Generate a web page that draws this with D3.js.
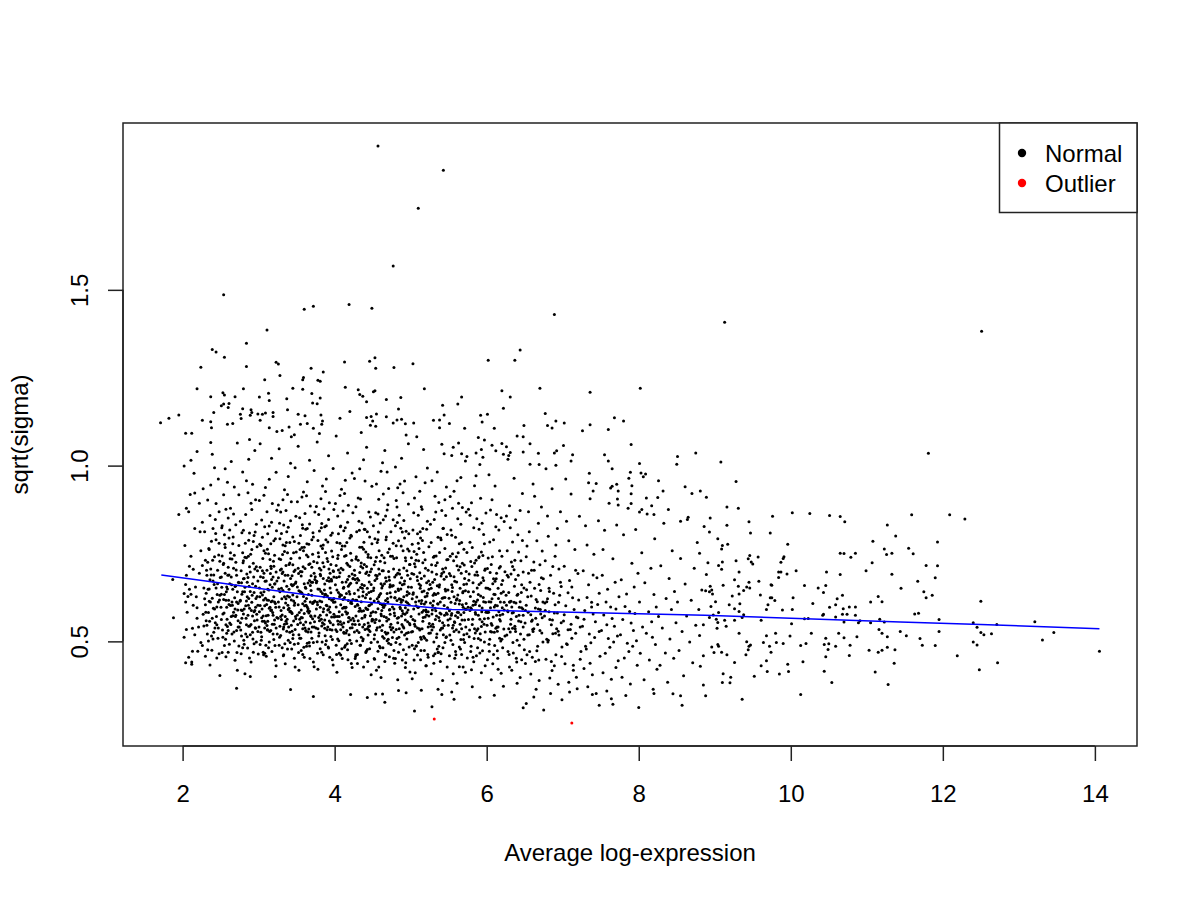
<!DOCTYPE html>
<html>
<head>
<meta charset="utf-8">
<script src="https://cdn.jsdelivr.net/npm/d3@7"></script>
<style>
  body { margin: 0; background: #fff; }
  text { font-family: "Liberation Sans", Arial, Helvetica, sans-serif; fill: #000; }
</style>
</head>
<body>
<svg id="chart" width="1200" height="900"></svg>
<script>
// values, flat lists of x, y (x = average log-expression, y = sqrt(sigma))
const xTicks = [2, 4, 6, 8, 10, 12, 14];
const yTicks = [0.5, 1.0, 1.5];
const legendLabels = ["Normal", "Outlier"];
const legendColors = ["black", "red"];

// lowess trend
const trendX = [1.72, 2.5, 3.33, 4.29, 5.0, 5.54, 6.5, 7.27, 8.87, 10.0, 11.44, 12.5, 14.06];
const trendY = [0.689, 0.666, 0.641, 0.614, 0.601, 0.591, 0.586, 0.582, 0.574, 0.566, 0.555, 0.548, 0.536];

const outlierPts = [5.31,.279, 7.12,.268];

const sparseTop = [4.57,1.909, 5.43,1.840, 5.10,1.732, 4.77,1.568, 2.54,1.486, 3.60,1.445, 3.72,1.453, 4.19,1.458, 4.49,1.448, 6.89,1.430, 3.11,1.386, 2.84,1.348, 2.39,1.330, 2.44,1.323, 2.55,1.308, 2.24,1.280, 2.84,1.282, 3.23,1.294, 3.26,1.289, 3.69,1.277, 4.13,1.295, 4.46,1.297, 4.53,1.307, 4.54,1.277, 4.78,1.279, 5.03,1.290, 6.02,1.300, 6.37,1.300, 6.44,1.329];

const sparseUpper = [3.08,1.244, 3.28,1.256, 3.59,1.251, 3.58,1.244, 3.85,1.266, 3.78,1.243, 3.81,1.240, 2.19,1.219, 2.80,1.219, 2.53,1.207, 2.55,1.201, 2.37,1.196, 2.69,1.196, 3.01,1.195, 3.13,1.206, 3.14,1.185, 3.37,1.190, 3.45,1.220, 3.58,1.217, 3.70,1.205, 3.71,1.178, 3.77,1.176, 3.81,1.192, 4.14,1.223, 4.31,1.216, 4.33,1.202, 4.37,1.197, 4.42,1.182, 4.51,1.210, 4.53,1.213, 4.68,1.188, 4.87,1.194, 5.18,1.219, 2.51,1.170, 2.54,1.175, 2.61,1.177, 2.41,1.151, 2.60,1.165, 2.79,1.162, 2.90,1.159, 2.91,1.151, 2.89,1.143, 2.76,1.146, 2.77,1.134, 2.99,1.147, 3.05,1.146, 3.02,1.129, 3.09,1.150, 3.19,1.151, 3.19,1.140, 3.38,1.159, 3.52,1.146, 3.61,1.142, 3.55,1.118, 3.82,1.144, 3.84,1.127, 3.83,1.118, 4.07,1.135, 4.20,1.154, 4.42,1.137, 4.48,1.140, 4.50,1.127, 4.47,1.115, 4.55,1.147, 4.68,1.139, 4.84,1.161, 4.77,1.121, 4.82,1.130, 4.88,1.132, 4.93,1.119, 5.42,1.172, 5.30,1.129, 5.38,1.130, 5.44,1.144, 5.51,1.120, 1.71,1.122, 1.82,1.135, 1.95,1.144, 2.26,1.129, 2.37,1.125, 2.38,1.108, 2.59,1.118, 2.66,1.120, 2.04,1.092, 2.12,1.092, 2.37,1.066, 2.19,1.040, 2.11,1.015, 2.02,0.999, 2.16,0.922, 2.05,0.879, 1.95,0.861, 3.14,1.108, 3.24,1.097, 3.31,1.100, 3.40,1.110, 3.47,1.088, 3.43,1.082, 3.64,1.120, 3.72,1.106, 3.80,1.091, 2.88,1.074];

const sparseMid = [6.70,1.220, 7.36,1.209, 8.02,1.220, 6.20,1.213, 6.31,1.195, 5.67,1.195, 5.62,1.175, 6.22,1.163, 5.92,1.143, 6.01,1.146, 5.94,1.124, 6.77,1.148, 6.91,1.127, 7.02,1.121, 6.80,1.114, 6.86,1.107, 6.49,1.114, 5.71,1.106, 7.68,1.136, 7.80,1.127, 7.36,1.116, 7.26,1.099, 7.60,1.103, 6.40,1.084, 6.48,1.082, 5.89,1.080, 5.97,1.073, 5.63,1.064, 6.07,1.058, 6.20,1.063, 6.26,1.054, 6.12,1.042, 6.57,1.062, 7.01,1.057, 7.90,1.060, 5.93,1.046, 5.86,1.036, 5.54,1.029, 5.67,1.034, 5.74,1.026, 6.31,1.037, 6.29,1.029, 6.48,1.039, 6.68,1.035, 6.89,1.036, 7.13,1.031, 7.11,1.013, 7.55,1.031, 7.60,1.013, 8.51,1.026, 8.50,1.004, 8.75,1.036, 6.69,1.003, 6.91,1.001, 8.01,1.006, 7.65,0.991, 7.89,0.981, 8.03,0.979, 8.09,0.976, 7.35,0.978, 7.34,0.951, 7.87,0.964, 7.91,0.943, 8.26,0.957, 8.61,0.940, 8.70,0.921, 7.65,0.941, 7.71,0.947, 7.73,0.928, 7.40,0.928, 7.90,0.920, 8.10,0.908, 8.25,0.909, 7.72,0.905, 7.73,0.888, 7.90,0.892, 8.17,0.886, 8.20,0.861, 8.39,0.875, 8.04,0.875, 8.01,0.868, 8.55,0.842, 8.64,0.847];

const sparseBottom = [1.88,.567, 1.87,.676, 2.04,.439, 2.12,.435, 2.49,.403, 2.71,.367, 2.89,.400, 3.22,.400, 3.42,.363, 3.72,.343, 4.21,.349, 4.43,.340, 4.54,.350, 4.63,.350, 4.66,.327, 4.84,.360, 4.94,.354, 5.05,.302, 5.28,.314, 5.14,.361, 5.36,.364, 5.41,.349, 5.54,.356, 6.48,.311, 6.52,.323, 6.75,.305, 7.48,.318, 7.66,.321, 8.00,.312, 8.57,.318, 5.57,.335, 5.91,.341, 6.10,.347, 6.62,.342, 6.99,.334, 7.09,.356, 7.39,.349, 7.64,.337, 8.20,.352, 8.55,.345, 2.02,.636, 2.04,.612, 2.09,.648, 2.05,.534, 2.13,.472];

const sparseRight = [9.13,1.408, 12.51,1.382, 11.81,1.035, 9.08,1.010, 9.28,.955, 8.81,.928, 8.89,.910, 9.16,.882, 9.31,.879, 9.76,.856, 10.02,.866, 10.25,.864, 10.51,.858, 10.65,.855, 10.71,.840, 11.59,.860, 12.09,.860, 12.29,.848, 11.27,.831, 11.38,.800, 11.93,.783, 11.08,.785, 11.23,.763, 11.26,.747, 11.33,.751, 11.55,.765, 11.61,.749, 11.07,.724, 11.33,.691, 11.78,.716, 11.93,.715, 11.90,.681, 11.67,.671, 11.45,.651, 11.75,.641, 11.86,.631, 11.78,.624, 12.50,.614, 11.63,.578, 11.68,.580, 11.95,.562, 12.40,.553, 12.45,.540, 12.71,.548, 13.21,.556, 12.50,.525, 12.54,.519, 12.64,.522, 13.46,.525, 13.31,.504, 11.95,.528, 12.40,.498, 12.45,.490, 11.90,.488, 11.73,.489, 11.70,.508, 11.52,.516, 11.44,.528, 11.37,.476, 11.27,.483, 14.06,.472, 12.19,.459, 12.72,.439, 12.48,.419, 11.36,.438, 11.28,.377, 11.11,.413, 11.03,.475, 11.15,.469, 11.20,.475, 11.16,.534, 11.20,.523, 11.27,.513, 11.23,.555, 11.17,.563, 11.05,.553, 10.91,.559, 10.85,.574, 10.74,.577, 10.68,.577, 10.70,.555, 10.77,.598, 10.85,.598, 10.69,.593, 10.68,.631, 10.61,.621, 10.59,.604, 10.51,.597, 10.43,.577, 10.42,.574, 10.59,.569, 10.89,.553, 11.05,.612, 11.15,.628, 11.20,.613, 10.99,.701, 10.65,.751, 10.70,.750, 10.79,.739, 10.85,.751, 10.47,.697, 10.65,.690, 10.46,.659, 10.43,.639, 10.36,.652, 10.29,.608, 10.18,.659, 10.07,.701, 9.95,.692, 10.03,.624, 10.02,.591, 9.89,.589, 10.01,.550, 10.18,.564, 10.23,.565, 10.27,.523, 10.20,.494, 10.13,.488, 10.46,.509, 10.63,.523, 10.70,.510, 10.87,.513, 10.78,.489, 10.59,.486, 10.50,.493, 10.44,.491, 10.49,.477, 10.46,.456, 10.77,.460, 10.44,.415, 10.54,.383, 10.16,.442, 10.13,.349, 9.99,.515, 9.90,.494, 9.96,.435, 9.97,.414, 9.85,.407, 9.69,.414, 9.68,.445, 9.61,.431, 9.52,.401, 9.36,.335, 9.81,.497, 9.80,.523, 9.68,.516, 9.64,.497, 9.72,.486, 9.74,.469, 9.45,.486, 9.42,.499, 9.47,.490, 9.44,.476, 9.41,.462, 9.32,.523, 9.26,.440, 9.11,.408, 9.21,.398, 9.10,.383, 9.20,.382, 8.85,.376, 8.88,.345, 8.81,.429, 8.99,.468, 9.09,.469, 9.16,.462, 8.96,.484, 9.04,.491, 9.05,.486, 8.85,.459, 8.80,.517, 9.03,.537, 8.85,.547, 9.02,.563, 9.04,.554, 9.13,.560, 9.15,.543, 8.93,.568, 8.98,.575, 9.05,.582, 9.26,.560, 9.36,.568, 9.38,.576, 9.32,.585, 9.26,.593, 9.19,.604, 9.33,.607, 9.01,.613, 8.95,.599, 9.61,.560, 9.68,.591, 9.70,.604, 9.73,.624, 9.75,.624, 9.79,.616, 9.60,.632, 9.23,.629, 9.32,.635, 9.38,.645, 9.42,.655, 9.46,.652, 9.45,.668, 9.58,.671, 9.75,.660, 9.31,.657, 9.11,.660, 8.94,.657, 8.96,.646, 8.83,.646, 8.88,.644, 8.93,.641, 8.97,.635, 9.26,.675, 9.32,.697, 9.09,.705, 8.89,.690, 9.05,.716, 9.10,.726, 8.91,.724, 9.28,.729, 9.44,.735, 9.48,.726, 9.50,.720, 9.46,.744, 9.57,.740, 9.09,.763, 9.10,.773, 9.17,.776, 9.04,.792, 8.80,.751, 8.93,.811, 8.86,.827, 9.16,.830, 8.94,.851, 9.45,.840, 9.47,.808, 9.73,.808, 9.96,.776, 9.91,.741, 9.90,.736, 9.87,.725, 9.84,.697, 9.87,.697, 9.84,.682, 9.74,.661];

// dense cloud, estimated strip by strip
const cloudA = [2.02,.512, 2.05,.688, 2.08,.455, 2.11,.742, 2.14,.603, 2.16,.821, 2.19,.566, 2.22,.694, 2.24,.497, 2.03,.773, 2.07,.628, 2.10,.918, 2.13,.537, 2.17,.655, 2.20,.472, 2.23,.812, 2.06,.583, 2.09,.714, 2.12,.441, 2.15,.978, 2.18,.627, 2.21,.541, 2.24,.758, 2.04,.662, 2.08,.869, 2.14,.705, 2.19,.596, 2.22,.893, 2.11,.634, 2.16,.519,
  2.26,.488, 2.28,.652, 2.30,.731, 2.31,.559, 2.33,.902, 2.35,.614, 2.36,.433, 2.38,.785, 2.40,.672, 2.41,.526, 2.43,.847, 2.45,.598, 2.46,.702, 2.48,.465, 2.49,.631, 2.27,.577, 2.29,.812, 2.32,.688, 2.34,.501, 2.37,.945, 2.39,.566, 2.42,.741, 2.44,.652, 2.47,.538, 2.26,.716, 2.30,.604, 2.33,.476, 2.36,.858, 2.39,.623, 2.42,.994, 2.45,.547, 2.48,.779, 2.28,.544, 2.31,.637, 2.35,.761, 2.38,.515, 2.41,.689, 2.44,.892, 2.47,.612, 2.27,.934, 2.30,.458, 2.34,.582, 2.37,.706, 2.40,.821, 2.43,.553, 2.46,.664, 2.49,.728, 2.29,.621, 2.32,.546, 2.36,.675, 2.39,1.032, 2.42,.592, 2.45,.453, 2.48,.869, 2.26,.839, 2.33,.725, 2.40,.507, 2.44,.789, 2.47,.962, 2.35,.649,
  2.51,.562, 2.52,.743, 2.54,.619, 2.55,.488, 2.57,.876, 2.58,.655, 2.60,.531, 2.61,.794, 2.63,.602, 2.64,1.012, 2.66,.573, 2.67,.708, 2.69,.446, 2.70,.832, 2.72,.641, 2.73,.559, 2.74,.917, 2.51,.683, 2.53,.512, 2.56,.767, 2.58,.597, 2.59,.953, 2.62,.664, 2.65,.521, 2.68,.745, 2.71,.612, 2.74,.487, 2.52,.829, 2.55,.633, 2.57,.456, 2.60,.711, 2.63,.879, 2.66,.648, 2.69,.592, 2.72,1.064, 2.53,.578, 2.56,.694, 2.59,.542, 2.62,.817, 2.65,.734, 2.68,.501, 2.71,.688, 2.74,.773, 2.54,.917, 2.57,.617, 2.60,.469, 2.63,.752, 2.67,.583, 2.70,.658, 2.73,.541, 2.51,.634, 2.55,.803, 2.58,.523, 2.61,.689, 2.64,.571, 2.67,.862, 2.70,.725, 2.73,.608, 2.52,.468, 2.56,.991, 2.59,.649, 2.62,.552, 2.66,.778, 2.69,.656, 2.72,.418, 2.54,.722, 2.57,.547, 2.61,.605, 2.64,.683, 2.68,.939, 2.71,.531, 2.74,.667, 2.60,.851, 2.65,.612, 2.70,.574,
  2.76,.553, 2.77,.701, 2.78,.634, 2.79,.482, 2.80,.816, 2.81,.592, 2.82,.739, 2.83,.521, 2.84,.957, 2.85,.668, 2.86,.574, 2.87,.788, 2.88,.453, 2.89,.642, 2.90,.893, 2.91,.611, 2.92,.526, 2.93,.722, 2.94,.584, 2.95,1.043, 2.96,.657, 2.97,.498, 2.98,.769, 2.99,.603, 2.76,.842, 2.78,.566, 2.80,.678, 2.82,.408, 2.84,.615, 2.86,.923, 2.88,.712, 2.90,.548, 2.92,.664, 2.94,.801, 2.96,.537, 2.98,.628, 2.77,.589, 2.79,.752, 2.81,.492, 2.83,.861, 2.85,.627, 2.87,.543, 2.89,.697, 2.91,.761, 2.93,.469, 2.95,.588, 2.97,.833, 2.99,.672, 2.76,.617, 2.79,.982, 2.82,.654, 2.85,.513, 2.88,.594, 2.91,.875, 2.94,.639, 2.97,.712, 2.77,.465, 2.80,.729, 2.83,.601, 2.86,.682, 2.89,.519, 2.92,.947, 2.95,.706, 2.98,.561, 2.78,.809, 2.81,.679, 2.84,.547, 2.87,.622, 2.90,.441, 2.93,.784, 2.96,.597, 2.99,.528, 2.80,.578, 2.84,.738, 2.88,.808, 2.92,.572, 2.96,.903, 2.79,.641, 2.87,1.018, 2.94,.493];

const cloudB = [3.01,.584, 3.02,.711, 3.03,.526, 3.04,.845, 3.05,.632, 3.06,.469, 3.07,.758, 3.08,.601, 3.09,.938, 3.10,.672, 3.11,.545, 3.12,.806, 3.13,.617, 3.14,.498, 3.15,.733, 3.16,.588, 3.17,1.021, 3.18,.654, 3.19,.521, 3.20,.786, 3.21,.612, 3.22,.447, 3.23,.697, 3.24,.873, 3.01,.652, 3.03,.773, 3.05,.557, 3.07,.916, 3.09,.623, 3.11,.702, 3.13,.482, 3.15,.661, 3.17,.839, 3.19,.574, 3.21,.745, 3.23,.538, 3.02,.602, 3.04,.513, 3.06,.682, 3.08,.826, 3.10,.573, 3.12,.648, 3.14,.961, 3.16,.714, 3.18,.549, 3.20,.627, 3.22,.792, 3.24,.568, 3.01,.901, 3.04,.567, 3.07,.641, 3.10,.458, 3.13,.749, 3.16,.531, 3.19,.683, 3.22,.608, 3.02,.491, 3.05,.796, 3.08,.538, 3.11,.869, 3.14,.594, 3.17,.676, 3.20,.505, 3.23,.981, 3.03,.638, 3.06,.572, 3.09,.751, 3.12,.533, 3.15,.597, 3.18,.892, 3.21,.561, 3.24,.672, 3.05,.701, 3.08,.466, 3.11,.618, 3.14,.828, 3.17,.589, 3.20,.714, 3.23,.431, 3.02,1.062, 3.07,.694, 3.12,.557, 3.16,.778, 3.21,.663, 3.09,.552, 3.18,.615,
  3.26,.612, 3.27,.735, 3.28,.543, 3.29,.868, 3.30,.651, 3.31,.482, 3.32,.774, 3.33,.596, 3.34,.931, 3.35,.688, 3.36,.557, 3.37,.812, 3.38,.629, 3.39,.503, 3.40,.719, 3.41,.584, 3.42,1.007, 3.43,.662, 3.44,.529, 3.45,.797, 3.46,.615, 3.47,.452, 3.48,.703, 3.49,.856, 3.26,.681, 3.28,.792, 3.30,.562, 3.32,.903, 3.34,.627, 3.36,.716, 3.38,.478, 3.40,.648, 3.42,.843, 3.44,.579, 3.46,.752, 3.48,.534, 3.27,.598, 3.29,.517, 3.31,.693, 3.33,.831, 3.35,.571, 3.37,.657, 3.39,.969, 3.41,.723, 3.43,.546, 3.45,.632, 3.47,.784, 3.49,.564, 3.26,.888, 3.29,.571, 3.32,.645, 3.35,.436, 3.38,.752, 3.41,.526, 3.44,.687, 3.47,.603, 3.27,.489, 3.30,.807, 3.33,.541, 3.36,.872, 3.39,.591, 3.42,.679, 3.45,.508, 3.48,.994, 3.28,.641, 3.31,.575, 3.34,.756, 3.37,.529, 3.40,.594, 3.43,.897, 3.46,.558, 3.49,.669, 3.30,.706, 3.33,.462, 3.36,.621, 3.39,.825, 3.42,.586, 3.45,.718, 3.48,.427, 3.27,1.048, 3.32,.697, 3.37,.551, 3.41,.781, 3.46,.661, 3.34,.549, 3.43,.618, 3.29,.733, 3.38,.918, 3.47,.492, 3.35,.772,
  3.51,.575, 3.52,.708, 3.53,.519, 3.54,.852, 3.55,.641, 3.56,.474, 3.57,.767, 3.58,.607, 3.59,.925, 3.60,.664, 3.61,.538, 3.62,.819, 3.63,.622, 3.64,.495, 3.65,.741, 3.66,.581, 3.67,1.015, 3.68,.659, 3.69,.527, 3.70,.789, 3.71,.608, 3.72,.441, 3.73,.694, 3.74,.868, 3.51,.655, 3.53,.779, 3.55,.553, 3.57,.911, 3.59,.628, 3.61,.707, 3.63,.486, 3.65,.666, 3.67,.834, 3.69,.571, 3.71,.748, 3.73,.541, 3.52,.604, 3.54,.509, 3.56,.686, 3.58,.822, 3.60,.579, 3.62,.651, 3.64,.954, 3.66,.719, 3.68,.552, 3.70,.631, 3.72,.797, 3.74,.572, 3.51,.897, 3.54,.563, 3.57,.637, 3.60,.455, 3.63,.746, 3.66,.535, 3.69,.687, 3.72,.611, 3.52,.494, 3.55,.801, 3.58,.536, 3.61,.864, 3.64,.598, 3.67,.673, 3.70,.509, 3.73,.986, 3.53,.644, 3.56,.568, 3.59,.758, 3.62,.531, 3.65,.593, 3.68,.885, 3.71,.564, 3.74,.676, 3.55,.699, 3.58,.463, 3.61,.614, 3.64,.821, 3.67,.586, 3.70,.711, 3.73,.428, 3.52,1.055, 3.57,.698, 3.62,.555, 3.66,.776, 3.71,.668, 3.59,.547, 3.68,.612, 3.54,.737, 3.63,.914, 3.72,.497, 3.60,.768, 3.65,.527, 3.69,.645, 3.56,.589, 3.74,.615, 3.53,.418, 3.67,.487,
  3.76,.592, 3.77,.724, 3.78,.536, 3.79,.861, 3.80,.648, 3.81,.479, 3.82,.771, 3.83,.613, 3.84,.942, 3.85,.679, 3.86,.549, 3.87,.826, 3.88,.634, 3.89,.502, 3.90,.736, 3.91,.589, 3.92,1.028, 3.93,.671, 3.94,.534, 3.95,.802, 3.96,.618, 3.97,.448, 3.98,.701, 3.99,.875, 3.76,.667, 3.78,.787, 3.80,.559, 3.82,.906, 3.84,.636, 3.86,.712, 3.88,.491, 3.90,.673, 3.92,.847, 3.94,.583, 3.96,.757, 3.98,.547, 3.77,.611, 3.79,.515, 3.81,.691, 3.83,.835, 3.85,.584, 3.87,.663, 3.89,.962, 3.91,.727, 3.93,.558, 3.95,.638, 3.97,.808, 3.99,.577, 3.76,.884, 3.79,.568, 3.82,.642, 3.85,.462, 3.88,.753, 3.91,.541, 3.94,.694, 3.97,.617, 3.77,.499, 3.80,.814, 3.83,.544, 3.86,.877, 3.89,.603, 3.92,.681, 3.95,.514, 3.98,.992, 3.78,.649, 3.81,.574, 3.84,.764, 3.87,.537, 3.90,.601, 3.93,.894, 3.96,.569, 3.99,.683, 3.80,.708, 3.83,.469, 3.86,.627, 3.89,.829, 3.92,.591, 3.95,.719, 3.98,.433, 3.77,1.067, 3.82,.703, 3.87,.561, 3.91,.783, 3.96,.672, 3.84,.553, 3.93,.621, 3.79,.741, 3.88,.926, 3.97,.505, 3.85,.774, 3.90,.533, 3.94,.652, 3.81,.597, 3.99,.622, 3.78,.421, 3.92,.481];

const cloudC = [4.01,.571, 4.02,.716, 4.03,.528, 4.04,.857, 4.05,.639, 4.06,.466, 4.07,.779, 4.08,.604, 4.09,.933, 4.10,.668, 4.11,.541, 4.12,.815, 4.13,.625, 4.14,.488, 4.15,.744, 4.16,.578, 4.17,1.036, 4.18,.657, 4.19,.519, 4.20,.794, 4.21,.609, 4.22,.437, 4.23,.692, 4.24,.866, 4.01,.661, 4.03,.781, 4.05,.549, 4.07,.915, 4.09,.631, 4.11,.704, 4.13,.483, 4.15,.669, 4.17,.839, 4.19,.568, 4.21,.751, 4.23,.539, 4.02,.598, 4.04,.507, 4.06,.684, 4.08,.828, 4.10,.576, 4.12,.654, 4.14,.958, 4.16,.722, 4.18,.556, 4.20,.635, 4.22,.799, 4.24,.566, 4.01,.892, 4.04,.558, 4.07,.633, 4.10,.451, 4.13,.742, 4.16,.531, 4.19,.685, 4.22,.614, 4.02,.489, 4.05,.806, 4.08,.533, 4.11,.871, 4.14,.595, 4.17,.676, 4.20,.503, 4.23,.979, 4.03,.646, 4.06,.571, 4.09,.761, 4.12,.526, 4.15,.597, 4.18,.887, 4.21,.561, 4.24,.678, 4.05,.703, 4.08,.461, 4.11,.619, 4.14,.823, 4.17,.581, 4.20,.713, 4.23,.426, 4.02,1.084, 4.07,.695, 4.12,.552, 4.16,.781, 4.21,.665, 4.09,.548, 4.18,.616, 4.04,.736, 4.13,.921, 4.22,.494, 4.10,.771, 4.15,.524, 4.19,.642, 4.06,.584, 4.24,.619, 4.03,.412, 4.17,.476,
  4.26,.702, 4.27,.548, 4.28,.883, 4.29,.617, 4.30,.463, 4.31,.731, 4.32,.586, 4.33,.991, 4.34,.653, 4.35,.512, 4.36,.768, 4.37,.629, 4.38,.427, 4.39,.819, 4.40,.574, 4.41,.693, 4.42,1.052, 4.43,.536, 4.44,.747, 4.45,.601, 4.46,.479, 4.47,.854, 4.48,.642, 4.49,.558, 4.27,.676, 4.29,.501, 4.31,.908, 4.33,.594, 4.35,.723, 4.37,.541, 4.39,.659, 4.41,.468, 4.43,.812, 4.45,.688, 4.47,.573, 4.49,.941, 4.26,.527, 4.28,.734, 4.30,.605, 4.32,.842, 4.34,.489, 4.36,.662, 4.38,.587, 4.40,.956, 4.42,.633, 4.44,.518, 4.46,.797, 4.48,.581, 4.27,.451, 4.30,.679, 4.33,.768, 4.36,.566, 4.39,.719, 4.42,.592, 4.45,.868, 4.48,.497, 4.26,.636, 4.29,.812, 4.32,.525, 4.35,.613, 4.38,1.017, 4.41,.754, 4.44,.552, 4.47,.621, 4.28,.572, 4.31,.646, 4.34,.905, 4.37,.709, 4.40,.534, 4.43,.651, 4.46,.603, 4.49,.778, 4.27,.599, 4.30,.437, 4.33,.696, 4.36,.837, 4.39,.548, 4.42,.713, 4.45,.639, 4.48,.405, 4.29,.667, 4.34,.588, 4.38,.762, 4.43,.477, 4.47,.698, 4.31,.559, 4.40,.818, 4.46,.544, 4.32,.627, 4.41,.595, 4.26,.963, 4.37,.502, 4.44,.739, 4.35,1.094, 4.48,.662, 4.28,.462, 4.45,.532,
  4.51,.645, 4.52,.507, 4.53,.792, 4.54,.583, 4.55,.948, 4.56,.621, 4.57,.472, 4.58,.706, 4.59,.559, 4.60,.837, 4.61,.664, 4.62,.531, 4.63,1.008, 4.64,.597, 4.65,.738, 4.66,.443, 4.67,.681, 4.68,.568, 4.69,.874, 4.70,.612, 4.71,.495, 4.72,.763, 4.73,.638, 4.74,.549, 4.52,.718, 4.54,.866, 4.56,.539, 4.58,.627, 4.60,.482, 4.62,.745, 4.64,.919, 4.66,.603, 4.68,.671, 4.70,.524, 4.72,.589, 4.74,.812, 4.51,.561, 4.53,.673, 4.55,.418, 4.57,.789, 4.59,.632, 4.61,.984, 4.63,.546, 4.65,.606, 4.67,.857, 4.69,.502, 4.71,.699, 4.73,.577, 4.52,.615, 4.55,.532, 4.58,.904, 4.61,.578, 4.64,.701, 4.67,.463, 4.70,.753, 4.73,.661, 4.51,.829, 4.54,.688, 4.57,.593, 4.60,.728, 4.63,.514, 4.66,1.043, 4.69,.636, 4.72,.456, 4.53,.554, 4.56,.781, 4.59,.486, 4.62,.652, 4.65,.571, 4.68,.797, 4.71,.935, 4.74,.626, 4.52,.451, 4.56,.687, 4.60,.607, 4.64,.846, 4.68,.521, 4.72,.674, 4.55,.739, 4.62,.588, 4.70,.889, 4.58,.427, 4.66,.724, 4.74,.491, 4.54,1.112, 4.63,.658, 4.71,.563, 4.57,.862, 4.67,.616, 4.61,.397, 4.69,.982, 4.73,.541, 4.59,.692, 4.65,.509,
  4.76,.598, 4.77,.846, 4.78,.527, 4.79,.683, 4.80,.451, 4.81,.772, 4.82,.616, 4.83,.937, 4.84,.568, 4.85,.703, 4.86,.492, 4.87,.649, 4.88,1.021, 4.89,.587, 4.90,.758, 4.91,.538, 4.92,.672, 4.93,.426, 4.94,.813, 4.95,.631, 4.96,.556, 4.97,.891, 4.98,.604, 4.99,.719, 4.76,.511, 4.78,.736, 4.80,.641, 4.82,.882, 4.84,.469, 4.86,.597, 4.88,.681, 4.90,.542, 4.92,.956, 4.94,.613, 4.96,.763, 4.98,.484, 4.77,.659, 4.79,.573, 4.81,.901, 4.83,.694, 4.85,.536, 4.87,.822, 4.89,.447, 4.91,.627, 4.93,.738, 4.95,.582, 4.97,1.062, 4.99,.547, 4.76,.742, 4.79,.624, 4.82,.508, 4.85,.859, 4.88,.572, 4.91,.709, 4.94,.463, 4.97,.655, 4.78,.592, 4.81,.534, 4.84,.786, 4.87,.619, 4.90,.923, 4.93,.561, 4.96,.688, 4.99,.413, 4.77,.779, 4.80,.996, 4.83,.553, 4.86,.667, 4.89,.811, 4.92,.518, 4.95,.701, 4.98,.636, 4.79,.438, 4.84,.645, 4.88,.527, 4.92,.794, 4.96,.609, 4.81,.689, 4.86,.948, 4.90,.579, 4.94,1.087, 4.98,.757, 4.78,.474, 4.85,.621, 4.91,.844, 4.97,.525, 4.83,.391, 4.89,.661, 4.95,.507, 4.80,.829, 4.93,.596];

const cloudD = [5.01,.654, 5.02,.489, 5.03,.817, 5.04,.592, 5.05,.721, 5.06,.543, 5.07,.968, 5.08,.626, 5.09,.461, 5.10,.779, 5.11,.578, 5.12,.695, 5.13,.512, 5.14,.883, 5.15,.641, 5.16,.557, 5.17,1.046, 5.18,.606, 5.19,.732, 5.20,.431, 5.21,.667, 5.22,.842, 5.23,.584, 5.24,.523, 5.01,.738, 5.03,.562, 5.05,.908, 5.07,.487, 5.09,.673, 5.11,.615, 5.13,.794, 5.15,.536, 5.17,.588, 5.19,.951, 5.21,.503, 5.23,.702, 5.02,.621, 5.04,.866, 5.06,.411, 5.08,.748, 5.10,.597, 5.12,.532, 5.14,.679, 5.16,.821, 5.18,.474, 5.20,.612, 5.22,.993, 5.24,.648, 5.01,.527, 5.04,.691, 5.07,.601, 5.10,.859, 5.13,.448, 5.16,.724, 5.19,.569, 5.22,.637, 5.02,.776, 5.05,.549, 5.08,1.082, 5.11,.663, 5.14,.506, 5.17,.753, 5.20,.589, 5.23,.455, 5.03,.634, 5.06,.712, 5.09,.538, 5.12,.927, 5.15,.583, 5.18,.686, 5.21,.819, 5.24,.572, 5.05,.479, 5.09,.806, 5.13,.659, 5.17,.514, 5.21,.575, 5.02,.394, 5.11,.764, 5.19,.627, 5.07,.731, 5.15,.876, 5.23,.541, 5.04,1.121, 5.14,.608, 5.24,.769, 5.10,.497,
  5.26,.609, 5.27,.781, 5.28,.532, 5.29,.668, 5.30,.459, 5.31,.847, 5.32,.594, 5.33,.716, 5.34,.511, 5.35,.982, 5.36,.637, 5.37,.568, 5.38,.753, 5.39,.443, 5.40,.686, 5.41,.872, 5.42,.553, 5.43,.624, 5.44,1.034, 5.45,.497, 5.46,.709, 5.47,.581, 5.48,.804, 5.49,.646, 5.26,.524, 5.28,.697, 5.30,.615, 5.32,.913, 5.34,.572, 5.36,.468, 5.38,.661, 5.40,.789, 5.42,.538, 5.44,.602, 5.46,.858, 5.48,.427, 5.27,.651, 5.29,.549, 5.31,.742, 5.33,.587, 5.35,.478, 5.37,.895, 5.39,.612, 5.41,.693, 5.43,.519, 5.45,.764, 5.47,.939, 5.49,.561, 5.26,.833, 5.29,.602, 5.32,.465, 5.35,.724, 5.38,.559, 5.41,1.061, 5.44,.677, 5.47,.513, 5.27,.408, 5.30,.739, 5.33,.868, 5.36,.606, 5.39,.532, 5.42,.706, 5.45,.625, 5.48,.577, 5.28,.957, 5.31,.636, 5.34,.691, 5.37,.486, 5.40,.578, 5.43,.822, 5.46,.643, 5.49,.733, 5.30,.541, 5.35,.658, 5.40,.465, 5.45,.903, 5.28,.578, 5.38,1.108, 5.47,.684, 5.33,.633, 5.42,.389, 5.36,.796, 5.44,.545,
  5.51,.587, 5.52,.742, 5.53,.503, 5.54,.661, 5.55,.879, 5.56,.546, 5.57,.627, 5.58,.452, 5.59,.796, 5.60,.618, 5.61,.957, 5.62,.568, 5.63,.703, 5.64,.484, 5.65,.651, 5.66,.833, 5.67,.536, 5.68,.604, 5.69,.427, 5.70,.762, 5.71,.679, 5.72,1.013, 5.73,.591, 5.74,.522, 5.51,.693, 5.53,.611, 5.55,.538, 5.57,.927, 5.59,.471, 5.61,.715, 5.63,.582, 5.65,.549, 5.67,.781, 5.69,.642, 5.71,.497, 5.73,.868, 5.52,.564, 5.54,.802, 5.56,.408, 5.58,.671, 5.60,.533, 5.62,.849, 5.64,.606, 5.66,.576, 5.68,.722, 5.70,.519, 5.72,.644, 5.74,.753, 5.51,.459, 5.54,.579, 5.57,.684, 5.60,.741, 5.63,.893, 5.66,.505, 5.69,.597, 5.72,.412, 5.52,.912, 5.55,.653, 5.58,.554, 5.61,.621, 5.64,.778, 5.67,.463, 5.70,.582, 5.73,.699, 5.53,.817, 5.57,.528, 5.62,.632, 5.66,.966, 5.71,.561, 5.55,.749, 5.64,.428, 5.73,.608, 5.59,.573, 5.68,.881, 5.56,1.052, 5.70,.662, 5.61,.381, 5.65,.712,
  5.76,.641, 5.77,.513, 5.78,.782, 5.79,.596, 5.80,.894, 5.81,.548, 5.82,.667, 5.83,.442, 5.84,.723, 5.85,.605, 5.86,.971, 5.87,.531, 5.88,.688, 5.89,.574, 5.90,.819, 5.91,.467, 5.92,.629, 5.93,.754, 5.94,.556, 5.95,1.024, 5.96,.613, 5.97,.498, 5.98,.706, 5.99,.583, 5.76,.562, 5.78,.859, 5.80,.419, 5.82,.603, 5.84,.536, 5.86,.731, 5.88,.482, 5.90,.662, 5.92,.907, 5.94,.595, 5.96,.804, 5.98,.527, 5.77,.692, 5.79,.471, 5.81,.767, 5.83,.614, 5.85,.524, 5.87,.849, 5.89,.633, 5.91,.563, 5.93,.411, 5.95,.681, 5.97,.778, 5.99,.652, 5.76,.876, 5.80,.592, 5.84,.943, 5.88,.618, 5.92,.504, 5.96,.673, 5.78,.588, 5.82,.455, 5.86,.612, 5.90,.741, 5.94,.836, 5.98,.431, 5.79,.727, 5.85,.582, 5.91,1.003, 5.97,.564, 5.81,.371, 5.87,.697, 5.93,.542, 5.83,.823, 5.89,.508, 5.95,.744, 5.99,.865];

const cloudE = [6.01,.582, 6.02,.737, 6.03,.492, 6.04,.648, 6.05,.874, 6.06,.551, 6.07,.621, 6.08,.436, 6.09,.789, 6.10,.598, 6.11,.942, 6.12,.537, 6.13,.694, 6.14,.473, 6.15,.651, 6.16,.817, 6.17,.562, 6.18,.612, 6.19,.409, 6.20,.742, 6.21,.673, 6.22,1.032, 6.23,.589, 6.24,.515, 6.01,.707, 6.03,.613, 6.05,.528, 6.07,.903, 6.09,.463, 6.11,.671, 6.13,.574, 6.15,.541, 6.17,.758, 6.19,.637, 6.21,.482, 6.23,.841, 6.02,.566, 6.04,.783, 6.06,.391, 6.08,.664, 6.10,.526, 6.12,.826, 6.14,.601, 6.16,.584, 6.18,.713, 6.20,.506, 6.22,.641, 6.24,.698, 6.01,.448, 6.05,.596, 6.09,.678, 6.13,.861, 6.17,.509, 6.21,.577, 6.03,.974, 6.07,.546, 6.11,.633, 6.15,.421, 6.19,.852, 6.23,.611, 6.06,.719, 6.14,.529, 6.22,.372, 6.10,1.106, 6.18,.558, 6.04,.506,
  6.26,.603, 6.27,.758, 6.28,.471, 6.29,.639, 6.30,.886, 6.31,.527, 6.32,.614, 6.33,.418, 6.34,.713, 6.35,.582, 6.36,.964, 6.37,.543, 6.38,.676, 6.39,.452, 6.40,.631, 6.41,.803, 6.42,.558, 6.43,.597, 6.44,.397, 6.45,.729, 6.46,.661, 6.47,.921, 6.48,.574, 6.49,.506, 6.27,.688, 6.29,.536, 6.31,.823, 6.33,.598, 6.35,.467, 6.37,.731, 6.39,.571, 6.41,.634, 6.43,.489, 6.45,.556, 6.47,.787, 6.49,.652, 6.26,.857, 6.28,.584, 6.30,.427, 6.32,.692, 6.34,.537, 6.36,.611, 6.38,.846, 6.40,.503, 6.42,.754, 6.44,.613, 6.46,.448, 6.48,.697, 6.28,1.018, 6.32,.563, 6.36,.704, 6.40,.381, 6.44,.872, 6.48,.541, 6.30,.612, 6.38,.528, 6.46,.596, 6.34,.783,
  6.51,.588, 6.52,.741, 6.53,.462, 6.54,.627, 6.55,.869, 6.56,.519, 6.57,.668, 6.58,.407, 6.59,.702, 6.60,.561, 6.61,.948, 6.62,.536, 6.63,.651, 6.64,.443, 6.65,.619, 6.66,.786, 6.67,.548, 6.68,.592, 6.69,.389, 6.70,.718, 6.71,.645, 6.72,.882, 6.73,.567, 6.74,.498, 6.52,.603, 6.54,.518, 6.56,.812, 6.58,.576, 6.60,.455, 6.62,.726, 6.64,.595, 6.66,.473, 6.68,.836, 6.70,.531, 6.72,.681, 6.74,.612, 6.51,.437, 6.55,.694, 6.59,.557, 6.63,.913, 6.67,.486, 6.71,.578, 6.53,.771, 6.61,.528, 6.69,.662, 6.57,1.004, 6.65,.364, 6.73,.757,
  6.76,.572, 6.77,.729, 6.78,.449, 6.79,.613, 6.80,.857, 6.81,.503, 6.82,.651, 6.83,.396, 6.84,.688, 6.85,.547, 6.86,.934, 6.87,.522, 6.88,.637, 6.89,.431, 6.90,.604, 6.91,.774, 6.92,.536, 6.93,.581, 6.94,.378, 6.95,.706, 6.96,.631, 6.97,.869, 6.98,.553, 6.99,.484, 6.77,.588, 6.79,.506, 6.81,.799, 6.83,.562, 6.85,.443, 6.87,.713, 6.89,.581, 6.91,.462, 6.93,.821, 6.95,.518, 6.97,.668, 6.78,.991, 6.82,.584, 6.86,.417, 6.90,.742, 6.94,.529, 6.98,.656, 6.84,.352, 6.92,1.042, 6.80,.621];

const cloudF = [7.01,.558, 7.02,.714, 7.03,.436, 7.04,.601, 7.05,.842, 7.06,.491, 7.07,.638, 7.08,.384, 7.09,.673, 7.10,.534, 7.11,.919, 7.12,.509, 7.13,.624, 7.14,.418, 7.15,.591, 7.16,.761, 7.17,.523, 7.18,.569, 7.19,.365, 7.20,.693, 7.21,.618, 7.22,.856, 7.23,.541, 7.24,.471, 7.02,.576, 7.05,.493, 7.08,.786, 7.11,.549, 7.14,.432, 7.17,.702, 7.20,.567, 7.23,.449, 7.04,.962, 7.12,.655, 7.18,.398, 7.07,.533,
  7.26,.543, 7.27,.701, 7.28,.423, 7.29,.588, 7.30,.829, 7.31,.478, 7.32,.625, 7.33,.371, 7.34,.661, 7.35,.521, 7.36,.906, 7.37,.496, 7.38,.611, 7.39,.405, 7.40,.578, 7.41,.748, 7.42,.511, 7.43,.556, 7.44,.352, 7.45,.681, 7.46,.605, 7.47,.843, 7.48,.528, 7.49,.458, 7.28,.563, 7.32,.774, 7.36,.438, 7.40,.689, 7.44,.949, 7.48,.637, 7.30,.486, 7.38,.598,
  7.51,.531, 7.52,.688, 7.53,.411, 7.54,.575, 7.55,.816, 7.56,.466, 7.57,.612, 7.58,.359, 7.59,.648, 7.60,.508, 7.61,.893, 7.62,.483, 7.63,.598, 7.64,.392, 7.65,.565, 7.66,.735, 7.67,.498, 7.68,.543, 7.69,.668, 7.70,.592, 7.71,.831, 7.72,.515, 7.73,.445, 7.74,.627, 7.53,.761, 7.58,.547, 7.63,.936, 7.70,.426,
  7.76,.519, 7.77,.675, 7.78,.398, 7.79,.562, 7.80,.803, 7.81,.453, 7.82,.599, 7.83,.346, 7.84,.635, 7.85,.495, 7.86,.879, 7.87,.471, 7.88,.585, 7.89,.379, 7.90,.552, 7.91,.722, 7.92,.486, 7.93,.531, 7.94,.655, 7.95,.579, 7.96,.818, 7.97,.502, 7.98,.432, 7.99,.694,
  8.01,.612, 8.02,.466, 8.04,.752, 8.05,.541, 8.07,.391, 8.08,.667, 8.10,.523, 8.11,.862, 8.13,.584, 8.14,.447, 8.16,.708, 8.17,.556, 8.19,.364, 8.20,.633, 8.21,.792, 8.22,.491, 8.23,.598, 8.24,.421, 8.06,.968, 8.18,.512,
  8.26,.571, 8.28,.432, 8.29,.715, 8.31,.538, 8.33,.836, 8.35,.467, 8.36,.622, 8.38,.384, 8.40,.679, 8.41,.507, 8.43,.591, 8.44,.758, 8.46,.452, 8.47,.642, 8.49,.553, 8.32,.928, 8.45,.351,
  8.51,.612, 8.53,.474, 8.55,.736, 8.57,.528, 8.59,.402, 8.61,.663, 8.63,.572, 8.65,.853, 8.67,.498, 8.69,.617, 8.71,.439, 8.73,.708, 8.75,.546, 8.77,.781, 8.79,.591];

// extra points in the darkest part of the cloud (x 2.3 to 7, y 0.45 to 0.83)
const cloudCore = [2.305,.583, 2.315,.702, 2.325,.521, 2.335,.648, 2.345,.764, 2.355,.557, 2.365,.612, 2.375,.689, 2.385,.475, 2.395,.731, 2.405,.594, 2.415,.662, 2.425,.538, 2.435,.807, 2.445,.571, 2.455,.633, 2.465,.509, 2.475,.746, 2.485,.618, 2.495,.682,
  2.505,.597, 2.515,.654, 2.525,.532, 2.535,.719, 2.545,.581, 2.555,.776, 2.565,.506, 2.575,.641, 2.585,.563, 2.595,.688, 2.605,.617, 2.615,.492, 2.625,.735, 2.635,.548, 2.645,.661, 2.655,.603, 2.665,.797, 2.675,.527, 2.685,.624, 2.695,.571, 2.705,.703, 2.715,.468, 2.725,.589, 2.735,.668, 2.745,.541, 2.515,.823,
  2.755,.614, 2.765,.532, 2.775,.667, 2.785,.588, 2.795,.724, 2.805,.503, 2.815,.641, 2.825,.779, 2.835,.566, 2.845,.692, 2.855,.481, 2.865,.603, 2.875,.657, 2.885,.544, 2.895,.748, 2.905,.588, 2.915,.631, 2.925,.507, 2.935,.683, 2.945,.559, 2.955,.811, 2.965,.622, 2.975,.577, 2.985,.701, 2.995,.464, 2.775,.515, 2.865,.742, 2.955,.539,
  3.005,.541, 3.015,.627, 3.025,.684, 3.035,.503, 3.045,.592, 3.055,.736, 3.065,.618, 3.075,.557, 3.085,.671, 3.095,.489, 3.105,.605, 3.115,.762, 3.125,.574, 3.135,.646, 3.145,.528, 3.155,.693, 3.165,.613, 3.175,.471, 3.185,.582, 3.195,.728, 3.205,.549, 3.215,.664, 3.225,.597, 3.235,.815, 3.245,.521, 3.015,.776, 3.065,.462, 3.115,.532, 3.165,.707, 3.215,.488,
  3.255,.566, 3.265,.649, 3.275,.512, 3.285,.703, 3.295,.588, 3.305,.621, 3.315,.747, 3.325,.535, 3.335,.672, 3.345,.493, 3.355,.609, 3.365,.781, 3.375,.563, 3.385,.688, 3.395,.541, 3.405,.626, 3.415,.497, 3.425,.736, 3.435,.582, 3.445,.658, 3.455,.519, 3.465,.699, 3.475,.609, 3.485,.571, 3.495,.754, 3.275,.836, 3.325,.459, 3.385,.603, 3.435,.478, 3.485,.665,
  3.505,.627, 3.515,.548, 3.525,.693, 3.535,.582, 3.545,.761, 3.555,.509, 3.565,.638, 3.575,.567, 3.585,.712, 3.595,.483, 3.605,.601, 3.615,.654, 3.625,.529, 3.635,.778, 3.645,.586, 3.655,.633, 3.665,.497, 3.675,.721, 3.685,.573, 3.695,.668, 3.705,.541, 3.715,.809, 3.725,.612, 3.735,.556, 3.745,.684, 3.525,.468, 3.575,.832, 3.625,.603, 3.675,.451, 3.725,.727,
  3.755,.538, 3.765,.671, 3.775,.604, 3.785,.752, 3.795,.524, 3.805,.615, 3.815,.687, 3.825,.563, 3.835,.498, 3.845,.724, 3.855,.593, 3.865,.646, 3.875,.516, 3.885,.789, 3.895,.575, 3.905,.629, 3.915,.484, 3.925,.706, 3.935,.598, 3.945,.553, 3.955,.677, 3.965,.532, 3.975,.741, 3.985,.611, 3.995,.569, 3.775,.466, 3.825,.823, 3.875,.633, 3.935,.455, 3.985,.699,
  4.005,.612, 4.015,.533, 4.025,.682, 4.035,.571, 4.045,.745, 4.055,.502, 4.065,.627, 4.075,.556, 4.085,.708, 4.095,.479, 4.105,.594, 4.115,.651, 4.125,.523, 4.135,.771, 4.145,.584, 4.155,.636, 4.165,.493, 4.175,.717, 4.185,.567, 4.195,.662, 4.205,.538, 4.215,.802, 4.225,.608, 4.235,.549, 4.245,.679, 4.025,.463, 4.075,.826, 4.125,.597, 4.175,.448, 4.225,.731,
  4.255,.559, 4.265,.688, 4.275,.617, 4.285,.741, 4.295,.531, 4.305,.603, 4.315,.674, 4.325,.548, 4.335,.489, 4.345,.713, 4.355,.586, 4.365,.651, 4.375,.507, 4.385,.782, 4.395,.569, 4.405,.624, 4.415,.472, 4.425,.697, 4.435,.591, 4.445,.542, 4.455,.669, 4.465,.528, 4.475,.738, 4.485,.606, 4.495,.563, 4.275,.457, 4.325,.816, 4.375,.641, 4.435,.443, 4.485,.706,
  4.505,.584, 4.515,.652, 4.525,.519, 4.535,.727, 4.545,.562, 4.555,.679, 4.565,.498, 4.575,.613, 4.585,.758, 4.595,.541, 4.605,.636, 4.615,.573, 4.625,.701, 4.635,.482, 4.645,.597, 4.655,.664, 4.665,.526, 4.675,.789, 4.685,.558, 4.695,.622, 4.705,.506, 4.715,.683, 4.725,.591, 4.735,.742, 4.745,.533, 4.525,.449, 4.575,.811, 4.625,.604, 4.675,.461, 4.725,.655,
  4.755,.657, 4.765,.539, 4.775,.706, 4.785,.581, 4.795,.624, 4.805,.497, 4.815,.738, 4.825,.566, 4.835,.649, 4.845,.512, 4.855,.692, 4.865,.593, 4.875,.771, 4.885,.548, 4.895,.617, 4.905,.476, 4.915,.663, 4.925,.577, 4.935,.729, 4.945,.523, 4.955,.641, 4.965,.589, 4.975,.806, 4.985,.551, 4.995,.678, 4.775,.452, 4.825,.838, 4.875,.611, 4.935,.439, 4.985,.719,
  5.005,.571, 5.015,.693, 5.025,.528, 5.035,.638, 5.045,.756, 5.055,.559, 5.065,.612, 5.075,.487, 5.085,.684, 5.095,.597, 5.105,.729, 5.115,.536, 5.125,.651, 5.135,.474, 5.145,.616, 5.155,.787, 5.165,.568, 5.175,.643, 5.185,.509, 5.195,.708, 5.205,.584, 5.215,.629, 5.225,.463, 5.235,.672, 5.245,.551, 5.045,.447, 5.125,.812, 5.205,.431,
  5.255,.662, 5.265,.543, 5.275,.718, 5.285,.589, 5.295,.631, 5.305,.498, 5.315,.676, 5.325,.562, 5.335,.743, 5.345,.521, 5.355,.607, 5.365,.469, 5.375,.655, 5.385,.581, 5.395,.794, 5.405,.537, 5.415,.623, 5.425,.482, 5.435,.697, 5.445,.574, 5.455,.648, 5.465,.511, 5.475,.732, 5.485,.596, 5.495,.546, 5.305,.438, 5.425,.821,
  5.505,.623, 5.515,.518, 5.525,.687, 5.535,.574, 5.545,.642, 5.555,.491, 5.565,.729, 5.575,.556, 5.585,.608, 5.595,.462, 5.605,.669, 5.615,.583, 5.625,.752, 5.635,.527, 5.645,.616, 5.655,.478, 5.665,.694, 5.675,.561, 5.685,.638, 5.695,.505, 5.705,.717, 5.715,.592, 5.725,.541, 5.735,.663, 5.745,.453,
  5.755,.597, 5.765,.674, 5.775,.532, 5.785,.628, 5.795,.486, 5.805,.713, 5.815,.563, 5.825,.641, 5.835,.508, 5.845,.689, 5.855,.577, 5.865,.459, 5.875,.652, 5.885,.536, 5.895,.738, 5.905,.601, 5.915,.522, 5.925,.667, 5.935,.584, 5.945,.473, 5.955,.625, 5.965,.549, 5.975,.702, 5.985,.611,
  6.005,.546, 6.015,.651, 6.025,.583, 6.035,.472, 6.045,.696, 6.055,.612, 6.065,.527, 6.075,.741, 6.085,.569, 6.095,.634, 6.105,.488, 6.115,.603, 6.125,.678, 6.135,.541, 6.145,.452, 6.155,.622, 6.165,.709, 6.175,.574, 6.185,.501, 6.195,.662, 6.205,.596, 6.225,.535,
  6.255,.631, 6.265,.518, 6.275,.587, 6.285,.683, 6.295,.463, 6.305,.612, 6.315,.549, 6.325,.726, 6.335,.581, 6.345,.497, 6.365,.657, 6.375,.536, 6.385,.609, 6.395,.441, 6.415,.688, 6.425,.574, 6.445,.521, 6.455,.639, 6.475,.592, 6.495,.476,
  6.505,.552, 6.525,.647, 6.545,.583, 6.565,.471, 6.585,.629, 6.605,.534, 6.625,.702, 6.645,.566, 6.665,.613, 6.685,.447, 6.705,.591, 6.725,.524, 6.745,.678, 6.765,.609, 6.805,.498, 6.825,.642, 6.865,.561, 6.905,.523, 6.945,.611, 6.985,.457];

// ---- build ----
const toPts = (arr, status) => d3.range(0, arr.length, 2).map(i => ({ x: arr[i], y: arr[i + 1], status }));

const normal = [cloudA, cloudB, cloudC, cloudD, cloudE, cloudF, cloudCore, sparseTop, sparseUpper, sparseMid, sparseBottom, sparseRight]
  .flatMap(a => toPts(a, "Normal"));
const outliers = toPts(outlierPts, "Outlier");
const allPts = normal.concat(outliers);

const margin = { top: 123, right: 63, bottom: 154, left: 123 };
const width = 1200, height = 900;

// R style 4% padding around the data range
const xExt = d3.extent(allPts, d => d.x);
const yExt = d3.extent(allPts, d => d.y);
const xPad = (xExt[1] - xExt[0]) * 0.04;
const yPad = (yExt[1] - yExt[0]) * 0.04;

const x = d3.scaleLinear()
  .domain([xExt[0] - xPad, xExt[1] + xPad])
  .range([margin.left, width - margin.right]);
const y = d3.scaleLinear()
  .domain([yExt[0] - yPad, yExt[1] + yPad])
  .range([height - margin.bottom, margin.top]);

const svg = d3.select("#chart");
const colorOf = d3.scaleOrdinal().domain(legendLabels).range(legendColors);

// points
svg.append("g")
  .selectAll("circle")
  .data(allPts)
  .enter()
  .append("circle")
  .attr("cx", d => x(d.x))
  .attr("cy", d => y(d.y))
  .attr("r", 1.5)
  .attr("fill", d => colorOf(d.status));

// trend line
const trend = trendX.map((v, i) => [v, trendY[i]]);
svg.append("path")
  .datum(trend)
  .attr("fill", "none")
  .attr("stroke", "#0000ff")
  .attr("stroke-width", 1.5)
  .attr("d", d3.line().x(d => x(d[0])).y(d => y(d[1])));

// box
svg.append("rect")
  .attr("x", margin.left)
  .attr("y", margin.top)
  .attr("width", width - margin.left - margin.right)
  .attr("height", height - margin.top - margin.bottom)
  .attr("fill", "none")
  .attr("stroke", "#222")
  .attr("stroke-width", 1.5);

// x axis
const xAxis = svg.append("g")
  .attr("transform", `translate(0,${height - margin.bottom})`)
  .call(d3.axisBottom(x).tickValues(xTicks).tickSize(15).tickPadding(0).tickFormat(d3.format("d")));
xAxis.select(".domain").attr("stroke", "#222").attr("stroke-width", 1.5)
  .attr("d", `M${x(xTicks[0])},0H${x(xTicks[xTicks.length - 1])}`);
xAxis.selectAll(".tick line").attr("stroke", "#222").attr("stroke-width", 1.5);
xAxis.selectAll(".tick text")
  .attr("y", 56)
  .attr("dy", null)
  .style("font-size", "24px")
  .style("font-family", '"Liberation Sans", Arial, sans-serif')
  .attr("fill", "#000");

// y axis
const yAxis = svg.append("g")
  .attr("transform", `translate(${margin.left},0)`)
  .call(d3.axisLeft(y).tickValues(yTicks).tickSize(15).tickFormat(d3.format(".1f")));
yAxis.select(".domain").attr("stroke", "#222").attr("stroke-width", 1.5)
  .attr("d", `M0,${y(yTicks[0])}V${y(yTicks[yTicks.length - 1])}`);
yAxis.selectAll(".tick line").attr("stroke", "#222").attr("stroke-width", 1.5);
yAxis.selectAll(".tick text")
  .attr("x", null)
  .attr("dy", null)
  .attr("text-anchor", "middle")
  .attr("transform", "translate(-35,0) rotate(-90)")
  .style("font-size", "24px")
  .style("font-family", '"Liberation Sans", Arial, sans-serif')
  .attr("fill", "#000");

// axis titles
svg.append("text")
  .attr("x", (margin.left + width - margin.right) / 2)
  .attr("y", 861)
  .attr("text-anchor", "middle")
  .style("font-size", "24px")
  .text("Average log-expression");

svg.append("text")
  .attr("transform", `translate(28,${(margin.top + height - margin.bottom) / 2}) rotate(-90)`)
  .attr("text-anchor", "middle")
  .style("font-size", "24px")
  .text("sqrt(sigma)");

// legend
const legend = svg.append("g");
legend.append("rect")
  .attr("x", 999.5)
  .attr("y", margin.top)
  .attr("width", width - margin.right - 999.5)
  .attr("height", 89.5)
  .attr("fill", "#fff")
  .attr("stroke", "#222")
  .attr("stroke-width", 1.5);

const items = legend.selectAll(".item")
  .data(legendLabels)
  .enter()
  .append("g")
  .attr("class", "item")
  .attr("transform", (d, i) => `translate(1022,${153 + i * 30})`);
items.append("circle")
  .attr("r", 4.2)
  .attr("fill", d => colorOf(d));
items.append("text")
  .attr("x", 23)
  .attr("y", 8.5)
  .style("font-size", "24px")
  .text(d => d);
</script>
</body>
</html>
